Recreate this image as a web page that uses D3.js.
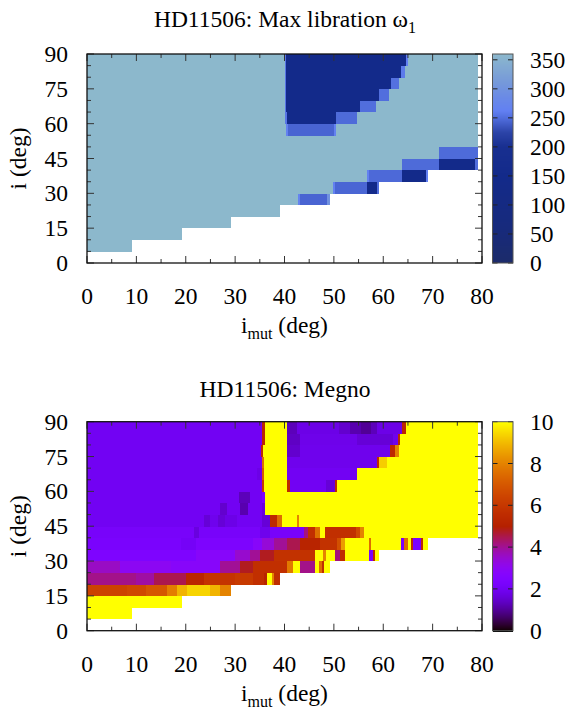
<!DOCTYPE html>
<meta charset="utf-8">
<style>
  body { margin: 0; background: #fff; }
  svg text { font-family: "Liberation Serif", "Times New Roman", serif; font-size: 23.5px; fill: #000; }
</style>
<svg width="571" height="711"></svg>
<script src="https://d3js.org/d3.v7.min.js"></script>
<script>

// axis ticks
var xTicks = [0, 10, 20, 30, 40, 50, 60, 70, 80];
var yTicks = [0, 15, 30, 45, 60, 75, 90];
var librationTicks = [0, 50, 100, 150, 200, 250, 300, 350];
var megnoTicks = [0, 2, 4, 6, 8, 10];

// libration colour bar
var librationStops = [0, 60, 150, 200, 225, 245, 262, 285, 310, 360];
var librationColors = ["#1c2b6a", "#172a7c", "#132a8a", "#182f90", "#2c44a8",
                       "#4a66d4", "#6280f2", "#6a8ae6", "#7598da", "#8cb8cc"];

// rows: [lower edge of the 5 deg i band, [[imut from, imut to, value], ...]]
var librationRows = [
  [5,  [[0, 9.1, 360]]],
  [10, [[0, 19.2, 360]]],
  [15, [[0, 29.2, 360]]],
  [20, [[0, 39.1, 360]]],
  [25, [[0, 42.8, 360], [42.8, 43.2, 268], [43.2, 48.6, 244], [48.6, 49.2, 300]]],
  [30, [[0, 49.8, 360], [49.8, 50.2, 265], [50.2, 56.7, 245], [56.7, 58.7, 150], [58.7, 59.1, 250]]],
  [35, [[0, 56.7, 360], [56.7, 57.1, 265], [57.1, 63.8, 247], [63.8, 68.7, 150], [68.7, 69.1, 262]]],
  [40, [[0, 63.8, 360], [63.8, 71.2, 248], [71.2, 78.5, 150], [78.5, 79.2, 250]]],
  [45, [[0, 71.2, 360], [71.2, 79.2, 248]]],
  [50, [[0, 79.2, 360]]],
  [55, [[0, 40.4, 360], [40.4, 40.8, 265], [40.8, 50.1, 244], [50.1, 50.5, 265], [50.5, 79.2, 360]]],
  [60, [[0, 40.1, 360], [40.1, 40.5, 255], [40.5, 50.5, 150], [50.5, 54.6, 248], [54.6, 79.2, 360]]],
  [65, [[0, 40, 360], [40, 40.4, 255], [40.4, 55.2, 150], [55.2, 58.6, 250], [58.6, 79.2, 360]]],
  [70, [[0, 40, 360], [40, 40.4, 255], [40.4, 59.1, 150], [59.1, 61.2, 250], [61.2, 79.2, 360]]],
  [75, [[0, 40, 360], [40, 40.4, 255], [40.4, 61.6, 150], [61.6, 63.2, 252], [63.2, 79.2, 360]]],
  [80, [[0, 40, 360], [40, 40.4, 255], [40.4, 63.6, 150], [63.6, 64.5, 258], [64.5, 79.2, 360]]],
  [85, [[0, 40, 360], [40, 40.4, 255], [40.4, 64.6, 150], [64.6, 65.1, 262], [65.1, 79.2, 360]]]
];

var megnoRows = [
  [5,  [[0, 9.1, 10]]],
  [10, [[0, 19.2, 10]]],
  [15, [[0, 8, 6.4], [8, 12, 6.6], [12, 16.2, 7.0], [16.2, 18.2, 7.9], [18.2, 20.2, 8.9],
        [20.2, 25, 9.4], [25, 27, 8.9], [27, 29.2, 8.0]]],
  [20, [[0, 10, 4.1], [10, 13.5, 3.9], [13.5, 20, 4.5], [20, 23.6, 5.3], [23.6, 30, 5.9],
        [30, 33.7, 6.1], [33.7, 35.8, 5.7], [35.8, 36.4, 5.2], [36.4, 37.4, 10], [37.4, 37.8, 8],
        [37.8, 39.1, 5.6]]],
  [25, [[0, 6.7, 3.6], [6.7, 17, 3.0], [17, 27, 2.8], [27, 31, 4.0], [31, 33.7, 4.8],
        [33.7, 40.5, 5.7], [40.5, 41.8, 7.8], [41.8, 43.2, 10], [43.2, 46.2, 4.1], [46.2, 46.9, 10],
        [46.9, 47.5, 7.5], [47.5, 48, 5.6], [48, 49.1, 10]]],
  [30, [[0, 22, 2.45], [22, 30, 2.8], [30, 33, 3.5], [33, 35, 4.0], [35, 37.8, 4.8],
        [37.8, 46.1, 5.8], [46.1, 47.8, 10], [47.8, 48.5, 8], [48.5, 50.2, 10], [50.2, 51.2, 4.2],
        [51.2, 52.2, 5.6], [52.2, 57.1, 10], [57.1, 57.9, 2.3], [57.9, 58.3, 5.5], [58.3, 59.1, 10]]],
  [35, [[0, 19, 2.3], [19, 22, 2.1], [22, 33.7, 2.4], [33.7, 35.5, 2.8], [35.5, 37.8, 3.4],
        [37.8, 40.5, 4.0], [40.5, 43.2, 4.5], [43.2, 47.2, 5.2], [47.2, 50.6, 5.8], [50.6, 51.4, 6.8],
        [51.4, 52.2, 8.5], [52.2, 57.1, 10], [57.1, 57.6, 7.5], [57.6, 63.6, 10], [63.6, 64.3, 2.3],
        [64.3, 65, 7.5], [65, 65.7, 10], [65.7, 66, 5.5], [66, 67.7, 2.3], [67.7, 68, 5.5],
        [68, 69.1, 10]]],
  [40, [[0, 21.6, 2.2], [21.6, 22.6, 1.7], [22.6, 35, 2.2], [35, 37, 1.9], [37, 43.9, 2.2],
        [43.9, 44.8, 4.2], [44.8, 46.2, 5.7], [46.2, 47.1, 7.6], [47.1, 48.2, 10], [48.2, 54.5, 5.7],
        [54.5, 55.3, 6.6], [55.3, 56.2, 8.0], [56.2, 79.2, 10]]],
  [45, [[0, 23.6, 2.0], [23.6, 25, 1.6], [25, 26.5, 1.9], [26.5, 28, 1.6], [28, 30.4, 1.8],
        [30.4, 35.4, 2.0], [35.4, 37.1, 1.6], [37.1, 38.4, 5.5], [38.4, 39.4, 7.5], [39.4, 42.6, 10],
        [42.6, 43, 8], [43, 79.2, 10]]],
  [50, [[0, 27, 2.0], [27, 28.3, 1.5], [28.3, 31, 2.0], [31, 32.7, 1.2], [32.7, 35.4, 2.0],
        [35.4, 36.1, 1.7], [36.1, 79.2, 10]]],
  [55, [[0, 30.7, 2.0], [30.7, 33, 1.3], [33, 35.4, 2.0], [35.4, 36.1, 2.3], [36.1, 79.2, 10]]],
  [60, [[0, 35.4, 2.0], [35.4, 35.8, 6], [35.8, 40.6, 10], [40.6, 41.1, 5.5], [41.1, 48.5, 2.0],
        [48.5, 50.2, 1.6], [50.2, 50.7, 5.5], [50.7, 79.2, 10]]],
  [65, [[0, 34.4, 2.0], [34.4, 35.4, 1.8], [35.4, 35.8, 7], [35.8, 40.6, 10], [40.6, 54.6, 2.0],
        [54.6, 79.2, 10]]],
  [70, [[0, 35.4, 2.0], [35.4, 35.9, 7.5], [35.9, 40.6, 10], [40.6, 58.7, 1.9], [58.7, 59.2, 5.5],
        [59.2, 60.7, 9.3], [60.7, 79.2, 10]]],
  [75, [[0, 35.2, 2.0], [35.2, 35.7, 5.5], [35.7, 40.6, 10], [40.6, 43.2, 1.5], [43.2, 61.4, 1.9],
        [61.4, 62.3, 5.5], [62.3, 63.2, 8], [63.2, 79.2, 10]]],
  [80, [[0, 35.4, 2.0], [35.4, 36.1, 5.3], [36.1, 40.6, 10], [40.6, 43.2, 1.4], [43.2, 54.6, 1.85],
        [54.6, 62, 1.6], [62, 63, 1.9], [63, 63.4, 5.5], [63.4, 79.2, 10]]],
  [85, [[0, 35.5, 2.0], [35.5, 36.1, 5.3], [36.1, 40.6, 10], [40.6, 42.5, 1.3], [42.5, 51, 1.8],
        [51, 53.3, 1.5], [53.3, 55.5, 1.2], [55.5, 57.5, 1.0], [57.5, 58.7, 1.3], [58.7, 63.7, 1.8],
        [63.7, 64.6, 5.3], [64.6, 79.2, 10]]]
];

// gnuplot's default pm3d palette (rgbformulae 7,5,15)
function pm3d(t) {
  var r = Math.sqrt(t), g = t * t * t, b = Math.max(0, Math.sin(2 * Math.PI * t));
  return d3.rgb(255 * r, 255 * g, 255 * b);
}

var svg = d3.select("svg");
var left = 87, right = 482, cbLeft = 492.5, cbRight = 513;

function panel(cfg) {
  var top = cfg.top, bottom = cfg.top + 209;
  var x = d3.scaleLinear().domain([0, 80]).range([left, right]);
  var y = d3.scaleLinear().domain([0, 90]).range([bottom, top]);
  var cb = d3.scaleLinear().domain(cfg.cbDomain).range([bottom, top]);
  var g = svg.append("g");

  // title
  var t = g.append("text").attr("x", 285).attr("y", top - cfg.titleGap)
    .attr("text-anchor", "middle").text(cfg.title);
  if (cfg.titleSub) {
    t.append("tspan").attr("dy", 6).style("font-size", "16px").text(cfg.titleSub);
  }

  // cells
  cfg.rows.forEach(function (row) {
    g.append("g").attr("shape-rendering", "crispEdges")
      .selectAll("rect").data(row[1]).enter().append("rect")
      .attr("x", function (d) { return x(d[0]); })
      .attr("width", function (d) { return x(d[1]) - x(d[0]) + 0.3; })
      .attr("y", y(row[0] + 5))
      .attr("height", y(row[0]) - y(row[0] + 5) + 0.3)
      .attr("fill", function (d) { return cfg.color(d[2]); });
  });

  // ticks, inward on all four sides
  var tk = g.append("g").attr("stroke", "#333").attr("stroke-width", 1);
  d3.range(0, 81, 5).forEach(function (v) {
    var len = v % 10 === 0 ? 7 : 4;
    tk.append("line").attr("x1", x(v)).attr("x2", x(v)).attr("y1", bottom).attr("y2", bottom - len);
    tk.append("line").attr("x1", x(v)).attr("x2", x(v)).attr("y1", top).attr("y2", top + len);
  });
  d3.range(0, 91, 5).forEach(function (v) {
    var len = v % 15 === 0 ? 7 : 4;
    tk.append("line").attr("y1", y(v)).attr("y2", y(v)).attr("x1", left).attr("x2", left + len);
    tk.append("line").attr("y1", y(v)).attr("y2", y(v)).attr("x1", right).attr("x2", right - len);
  });
  g.append("rect").attr("x", left).attr("y", top).attr("width", right - left).attr("height", bottom - top)
    .attr("fill", "none").attr("stroke", "#111").attr("stroke-width", 1.3);

  // tick labels
  g.selectAll(".xl").data(xTicks).enter().append("text")
    .attr("x", function (d) { return x(d); }).attr("y", bottom + 41)
    .attr("text-anchor", "middle").text(function (d) { return d; });
  g.selectAll(".yl").data(yTicks).enter().append("text")
    .attr("x", 68).attr("y", function (d) { return y(d) + 8; })
    .attr("text-anchor", "end").text(function (d) { return d; });

  // axis titles
  var xt = g.append("text").attr("x", 284.5).attr("y", bottom + 70).attr("text-anchor", "middle");
  xt.append("tspan").text("i");
  xt.append("tspan").attr("dy", 6).style("font-size", "16px").text("mut");
  xt.append("tspan").attr("dy", -6).text(" (deg)");
  g.append("text").attr("transform", "translate(26," + (top + bottom) / 2 + ") rotate(-90)")
    .attr("text-anchor", "middle").text("i (deg)");

  // colour box
  var cbg = g.append("g").attr("shape-rendering", "crispEdges");
  d3.range(top, bottom, 1).forEach(function (py) {
    cbg.append("rect").attr("x", cbLeft).attr("width", cbRight - cbLeft)
      .attr("y", py).attr("height", 1.2).attr("fill", cfg.color(cb.invert(py + 0.5)));
  });
  var ctk = g.append("g").attr("stroke", "#222");
  cfg.cbTicks.forEach(function (v) {
    ctk.append("line").attr("x1", cbLeft).attr("x2", cbLeft + 5).attr("y1", cb(v)).attr("y2", cb(v));
    ctk.append("line").attr("x1", cbRight).attr("x2", cbRight - 5).attr("y1", cb(v)).attr("y2", cb(v));
  });
  g.append("rect").attr("x", cbLeft).attr("y", top).attr("width", cbRight - cbLeft).attr("height", bottom - top)
    .attr("fill", "none").attr("stroke", "#555").attr("stroke-width", 1);
  g.selectAll(".cl").data(cfg.cbTicks).enter().append("text")
    .attr("x", 530).attr("y", function (d) { return cb(d) + 8; })
    .text(function (d) { return d; });
}

var librationColor = d3.scaleLinear().domain(librationStops).range(librationColors).clamp(true);
var megnoColor = d3.scaleSequential(pm3d).domain([0, 10]).clamp(true);

panel({ top: 54, title: "HD11506: Max libration ω", titleSub: "1", titleGap: 27,
        rows: librationRows, color: librationColor, cbDomain: [0, 360], cbTicks: librationTicks });
panel({ top: 421.7, title: "HD11506: Megno", titleGap: 25,
        rows: megnoRows, color: megnoColor, cbDomain: [0, 10], cbTicks: megnoTicks });

</script>
